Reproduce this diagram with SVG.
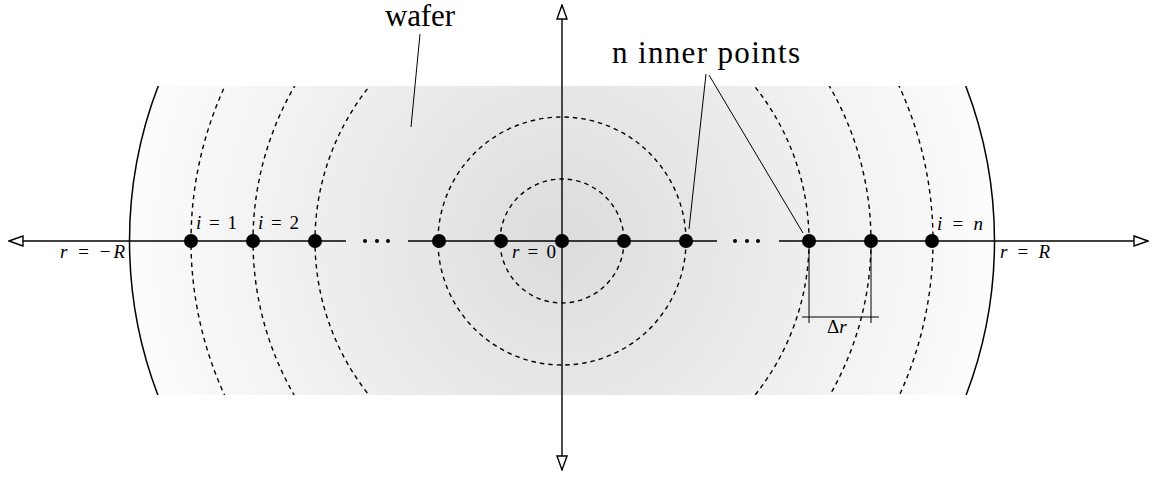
<svg xmlns="http://www.w3.org/2000/svg" width="1155" height="477" viewBox="0 0 1155 477">
<style>
.ax{stroke:#000;stroke-width:1.4;fill:none}
.dash{stroke:#000;stroke-width:1.4;fill:none;stroke-dasharray:4.5 4}
.lead{stroke:#000;stroke-width:1;fill:none}
.dot{fill:#000}
.m{font-family:"Liberation Serif","Times New Roman","DejaVu Serif","Noto Serif",Times,serif;font-size:19px;fill:#000}
.mi{font-style:italic}
.lbl{font-family:"Liberation Serif","Times New Roman","DejaVu Serif","Noto Serif",Times,serif;font-size:31px;fill:#000}
</style>
<defs>
<radialGradient id="g" gradientUnits="userSpaceOnUse" cx="562" cy="241" r="433">
<stop offset="0" stop-color="#dcdcdc"/>
<stop offset="1" stop-color="#fcfcfc"/>
</radialGradient>
<clipPath id="band"><rect x="0" y="86" width="1155" height="309"/></clipPath>
<marker id="arr" viewBox="0 0 16 12" refX="15" refY="6" markerWidth="16" markerHeight="12" markerUnits="userSpaceOnUse" orient="auto">
<path d="M1,1 L15,6 L1,11 Z" fill="#fff" stroke="#000" stroke-width="1.4"/>
</marker>
</defs>
<g id="wafer" clip-path="url(#band)">
<circle cx="562" cy="241" r="432.5" fill="url(#g)" stroke="#000" stroke-width="1.5"/>
<circle class="dash" cx="562" cy="241" r="247"/>
<circle class="dash" cx="562" cy="241" r="309"/>
<circle class="dash" cx="562" cy="241" r="371"/>
</g>
<g id="inner-circles">
<circle class="dash" cx="562" cy="241" r="62"/>
<circle class="dash" cx="562" cy="241" r="124"/>
</g>
<g id="connectors">
<line class="ax" x1="346" y1="241" x2="9" y2="241" marker-end="url(#arr)"/>
<line class="ax" x1="408" y1="241" x2="717" y2="241"/>
<line class="ax" x1="779" y1="241" x2="1148" y2="241" marker-end="url(#arr)"/>
<line class="ax" x1="562" y1="241" x2="562" y2="5" marker-end="url(#arr)"/>
<line class="ax" x1="562" y1="241" x2="562" y2="470" marker-end="url(#arr)"/>
<line class="lead" x1="420" y1="34" x2="411" y2="127"/>
<line class="lead" x1="706" y1="74" x2="689" y2="229"/>
<line class="lead" x1="709" y1="75" x2="803" y2="233"/>
<line class="lead" x1="809" y1="241" x2="809" y2="323"/>
<line class="lead" x1="871" y1="241" x2="871" y2="323"/>
<line class="lead" x1="802" y1="317" x2="879" y2="317"/>
</g>
<g id="ellipsis">
<circle class="dot" cx="365" cy="241" r="2"/><circle class="dot" cx="377" cy="241" r="2"/><circle class="dot" cx="388" cy="241" r="2"/>
<circle class="dot" cx="735" cy="241" r="2"/><circle class="dot" cx="747" cy="241" r="2"/><circle class="dot" cx="758" cy="241" r="2"/>
</g>
<g id="points">
<circle class="dot" cx="191" cy="241" r="7"/>
<circle class="dot" cx="253" cy="241" r="7"/>
<circle class="dot" cx="315" cy="241" r="7"/>
<circle class="dot" cx="439" cy="241" r="7"/>
<circle class="dot" cx="501" cy="241" r="7"/>
<circle class="dot" cx="562" cy="241" r="7"/>
<circle class="dot" cx="624" cy="241" r="7"/>
<circle class="dot" cx="686" cy="241" r="7"/>
<circle class="dot" cx="809" cy="241" r="7"/>
<circle class="dot" cx="871" cy="241" r="7"/>
<circle class="dot" cx="932" cy="241" r="7"/>
</g>
<g id="labels">
<text class="m" x="196" y="229" textLength="41"><tspan class="mi">i</tspan> = 1</text>
<text class="m" x="258" y="229" textLength="41"><tspan class="mi">i</tspan> = 2</text>
<text class="m" x="937" y="230" textLength="46"><tspan class="mi">i</tspan> = <tspan class="mi">n</tspan></text>
<text class="m" x="60" y="258" textLength="65"><tspan class="mi">r</tspan> = −<tspan class="mi">R</tspan></text>
<text class="m" x="512" y="258" textLength="44"><tspan class="mi">r</tspan> = 0</text>
<text class="m" x="1000" y="258" textLength="50"><tspan class="mi">r</tspan> = <tspan class="mi">R</tspan></text>
<text class="m" x="827" y="333">Δ<tspan class="mi">r</tspan></text>
<text class="lbl" x="385" y="26" textLength="70">wafer</text>
<text class="lbl" x="612" y="63" textLength="188">n inner points</text>
</g>
</svg>
